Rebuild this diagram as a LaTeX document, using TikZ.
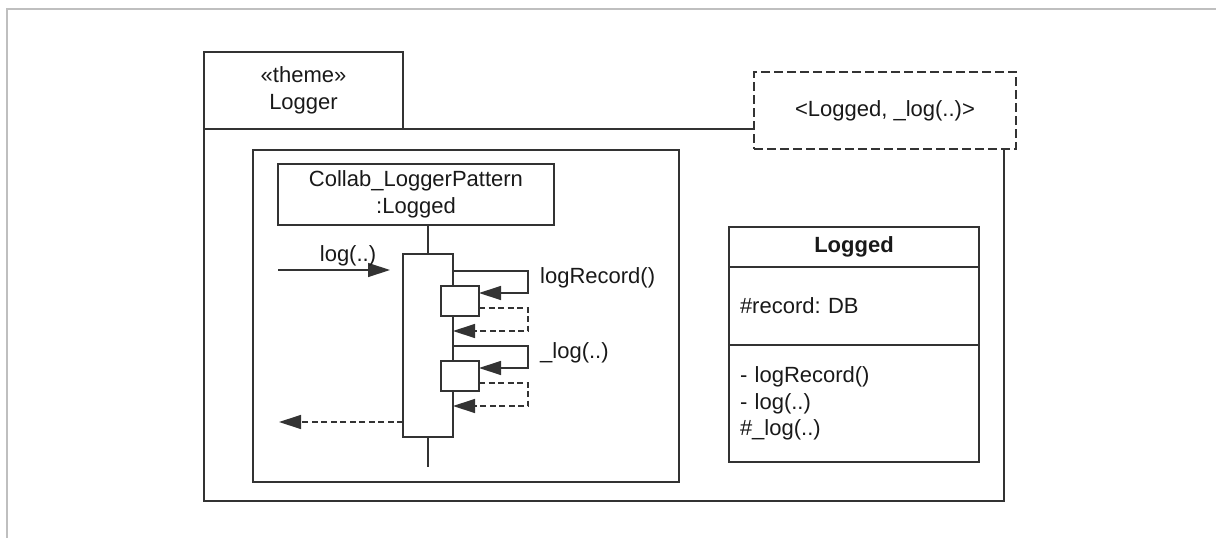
\documentclass[tikz,border=0pt]{standalone}
\usepackage{fontspec}
\setmainfont{Liberation Sans}
\usetikzlibrary{arrows.meta}
\frenchspacing
\begin{document}
\begin{tikzpicture}[x=1pt,y=-1pt,
  ln/.style={draw=black!80, line width=1.3pt},
  box/.style={ln, rectangle, inner sep=0pt, outer sep=0pt, anchor=north west},
  txt/.style={font=\fontsize{22}{26.5}\selectfont, text=black!90},
  dsh/.style={dash pattern=on 6pt off 3.5pt},
  bigdsh/.style={dash pattern=on 9pt off 4pt},
  tip/.style={-{Triangle[length=22pt,width=14pt]}},
]
\useasboundingbox (0,0) rectangle (1216,538);
\draw[black!25, line width=2pt] (7,538) -- (7,9) -- (1216,9);

% package
\node[box, txt, align=center, minimum width=199pt, minimum height=77pt] (tab) at (204,52) {«theme»\\Logger};
\node[box, bigdsh, txt, minimum width=262pt, minimum height=77pt] (theme) at (754,72) {<Logged, \_log(..)>};
\coordinate (pbl) at (204,501);
\coordinate (pbr) at (1004,501);
\draw[ln] (theme.west |- tab.south) -- (tab.south west) -- (pbl) -- (pbr) -- (pbr |- theme.south);

% interaction frame
\node[box, minimum width=426pt, minimum height=332pt] (frame) at (253,150) {};
\node[box, txt, align=center, minimum width=276pt, minimum height=61pt] (obj) at (278,164) {Collab\_LoggerPattern\\:Logged};
\node[box, fill=white, minimum width=50pt, minimum height=183pt] (act) at (403,254) {};
\coordinate (lend) at (428,467);
\draw[ln] (act.north |- obj.south) -- (act.north);
\draw[ln] (act.south) -- (lend);
\node[box, fill=white, minimum width=38pt, minimum height=30pt] (a1) at (441,286) {};
\node[box, fill=white, minimum width=38pt, minimum height=30pt] (a2) at (441,361) {};

% incoming message
\coordinate (src) at (278,270);
\draw[ln, tip] (src) -- ([xshift=-13pt,yshift=-16pt]act.north west);
\node[txt] (lbllog) at (348,256) {log(..)};

% logRecord
\draw[ln, tip] ([yshift=-17pt]act.north east) -- ++(75,0) -- ++(0,22) -- ([yshift=8pt]a1.east);
\draw[ln, dsh, tip] ([yshift=-7pt]a1.east) -- ++(49,0) -- ++(0,23) -- ([yshift=-77pt]act.north east);
\node[txt, anchor=west, inner sep=0pt] (lblrec) at (540,278) {logRecord()};

% _log
\draw[ln, tip] ([yshift=-92pt]act.north east) -- ++(75,0) -- ++(0,22) -- ([yshift=8pt]a2.east);
\draw[ln, dsh, tip] ([yshift=-7pt]a2.east) -- ++(49,0) -- ++(0,23) -- ([yshift=-152pt]act.north east);
\node[txt, anchor=west, inner sep=0pt] (lbl_log) at (540,353) {\_log(..)};

% return
\coordinate (ret) at (279,422);
\draw[ln, dsh, tip] ([yshift=-168pt]act.north west) -- (ret);

% class
\node[box, txt, font={\fontsize{22}{26.5}\selectfont\bfseries}, minimum width=250pt, minimum height=40pt] (cname) at (729,227) {Logged};
\node[box, txt, minimum width=250pt, minimum height=78pt, text width=228pt, inner xsep=11pt, align=left] (cattr) at (cname.south west) {\#record: DB};
\node[box, txt, minimum width=250pt, minimum height=117pt, text width=228pt, inner xsep=11pt, align=left] (cops) at (cattr.south west) {- logRecord()\\- log(..)\\\#\_log(..)};
\end{tikzpicture}
\end{document}
